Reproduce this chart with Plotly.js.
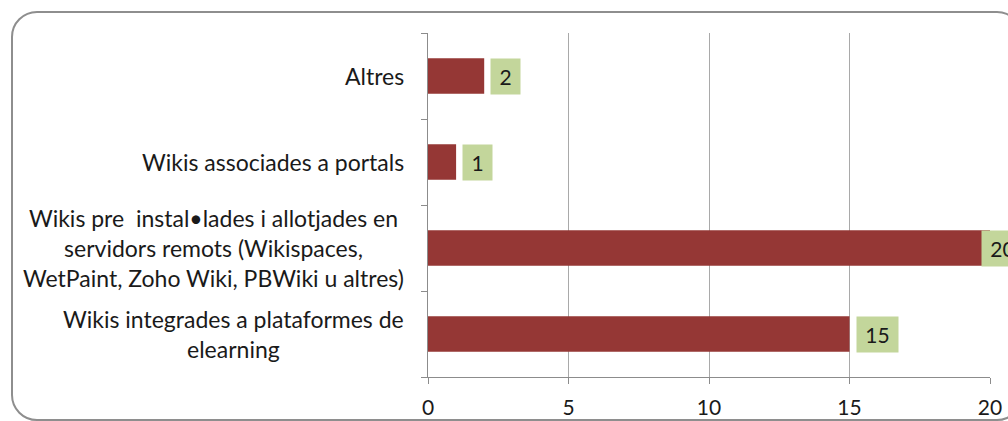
<!DOCTYPE html>
<html>
<head>
<meta charset="utf-8">
<script src="https://cdn.plot.ly/plotly-3.0.1.min.js"></script>
<style>
  html, body { margin: 0; padding: 0; background: #ffffff; overflow: hidden; }
  #frame { position: absolute; left: 11px; top: 11px; width: 1012px; height: 410px;
           border: 2px solid #8e8e8e; border-radius: 26px; box-sizing: border-box; }
  #chart { position: absolute; left: 0; top: 0; width: 1008px; height: 421px; }
</style>
</head>
<body>
<div id="frame"></div>
<div id="chart"></div>
<script>
// Categories, bottom to top as drawn
const categories = [
  "Wikis integrades a plataformes de<br>elearning",
  "Wikis pre  instal•lades i allotjades en<br>servidors remots (Wikispaces,<br>WetPaint, Zoho Wiki, PBWiki u altres)",
  "Wikis associades a portals",
  "Altres"
];
const values = [15, 20, 1, 2];
const valueLabels = ["15", "20", "1", "2"];
const xTickVals = [0, 5, 10, 15, 20];
const xTickText = ["0", "5", "10", "15", "20"];

const FONT = "Lato, 'Open Sans', sans-serif";
const X_MAX = 20;
const catKeys = categories.map((c, i) => "c" + i);

const trace = {
  type: "bar",
  orientation: "h",
  x: values,
  y: catKeys,
  marker: { color: "#953735", line: { width: 0 } },
  hoverinfo: "skip"
};

const annotations = [];
categories.forEach((c, i) => {
  annotations.push({
    xref: "x", yref: "y", x: 0, y: catKeys[i],
    xanchor: "right", yanchor: "middle", xshift: -22,
    align: "center", showarrow: false,
    text: c,
    font: { family: FONT, size: 23, color: "#1a1a1a" }
  });
});
values.forEach((v, i) => {
  // a label at the axis end is pulled back over the bar end, as the reference shows
  const atEnd = v >= X_MAX;
  annotations.push({
    xref: "x", yref: "y", x: v, y: catKeys[i],
    xanchor: "left", yanchor: "middle", xshift: atEnd ? -9 : 6,
    showarrow: false,
    text: valueLabels[i],
    bgcolor: "#c3d69b", borderpad: 0,
    width: 17 + 12 * valueLabels[i].length, height: 35,
    font: { family: FONT, size: 21, color: "#1a1a1a" }
  });
});

const layout = {
  width: 1008, height: 421,
  margin: { l: 428, r: 18, t: 33, b: 44 },
  paper_bgcolor: "rgba(0,0,0,0)",
  plot_bgcolor: "rgba(0,0,0,0)",
  showlegend: false,
  bargap: 0.59,
  xaxis: {
    range: [0, X_MAX],
    tickvals: xTickVals, ticktext: xTickText,
    showgrid: true, gridcolor: "#a9a9a9", gridwidth: 1,
    zeroline: false,
    showline: true, linecolor: "#8c8c8c", linewidth: 1,
    ticks: "outside", ticklen: 6, tickcolor: "#8c8c8c",
    ticklabelstandoff: 6,
    tickfont: { family: FONT, size: 21, color: "#1a1a1a" },
    fixedrange: true
  },
  yaxis: {
    type: "category",
    categoryorder: "array", categoryarray: catKeys,
    tickson: "boundaries",
    ticks: "outside", ticklen: 6, tickcolor: "#8c8c8c",
    showticklabels: false,
    showgrid: false, zeroline: false,
    showline: true, linecolor: "#8c8c8c", linewidth: 1,
    fixedrange: true
  },
  annotations: annotations
};

Plotly.newPlot("chart", [trace], layout, { displayModeBar: false, staticPlot: true });
</script>
</body>
</html>
